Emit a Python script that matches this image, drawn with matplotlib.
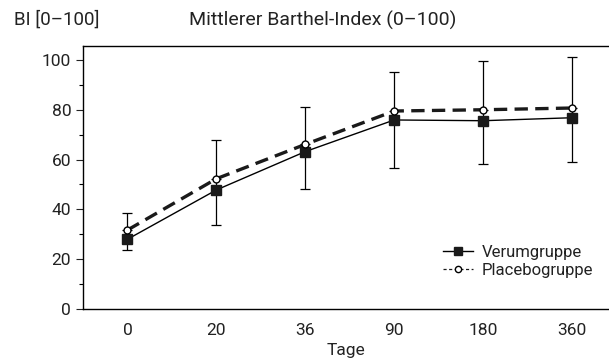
import matplotlib
matplotlib.use("Agg")
import matplotlib.pyplot as plt
from matplotlib.ticker import MultipleLocator

plt.rcParams['font.family'] = ['Roboto', 'DejaVu Sans']

# data
days = ["0", "20", "36", "90", "180", "360"]
verum = [28.0, 47.8, 63.2, 75.9, 75.6, 76.8]
placebo = [31.7, 52.3, 66.1, 79.5, 80.0, 80.7]
verum_sd = [4.2, 14.1, 15.0, 19.4, 17.4, 17.6]     # drawn downwards
placebo_sd = [6.7, 15.5, 14.9, 15.5, 19.6, 20.6]   # drawn upwards

x = list(range(len(days)))

fig = plt.figure(figsize=(6.09, 3.63), dpi=100)
ax = fig.add_axes([83 / 609, 1 - 309 / 363, 1 - 83 / 609, (309 - 46) / 363])

# error bars: lower part from Verum, upper part from Placebo
ax.errorbar(x, verum, yerr=[verum_sd, [0] * len(x)], fmt='none',
            ecolor='black', elinewidth=0.9, capsize=3.5, capthick=0.9, zorder=1)
ax.errorbar(x, placebo, yerr=[[0] * len(x), placebo_sd], fmt='none',
            ecolor='black', elinewidth=0.9, capsize=3.5, capthick=0.9, zorder=1)
# connect the gap between the two means
ax.vlines(x, verum, placebo, colors='black', linewidth=0.9, zorder=1)

ax.plot(x, verum, color='black', linewidth=1.0, marker='s', markersize=6.5,
        markerfacecolor='#1a1a1a', markeredgecolor='#1a1a1a', zorder=3,
        label='Verumgruppe')
ax.plot(x, placebo, color='#1a1a1a', linewidth=2.4, linestyle=(0, (4, 2.2)),
        marker='o', markersize=5, markerfacecolor='white',
        markeredgecolor='black', markeredgewidth=1.0, zorder=4,
        label='Placebogruppe')

ax.set_xlim(-0.5, 5 + (609 - 572) / 89)
ax.set_ylim(0, 105.6)
ax.set_xticks(x)
ax.set_xticklabels(days)
ax.yaxis.set_major_locator(MultipleLocator(20))
ax.yaxis.set_minor_locator(MultipleLocator(10))
ax.tick_params(axis='x', length=0, labelsize=12.5, pad=10, colors='#222222')
ax.tick_params(axis='y', which='major', length=5, width=0.8, labelsize=12.5,
               colors='#222222')
ax.tick_params(axis='y', which='minor', length=3, width=0.8)
ax.spines['right'].set_visible(False)
for s in ['left', 'top', 'bottom']:
    ax.spines[s].set_linewidth(1.0)

ax.set_xlabel('Tage', fontsize=12.5, labelpad=4, color='#222222')

# legend with thin handles like the original
leg = ax.legend(loc='lower right', bbox_to_anchor=(0.985, 0.085), frameon=False,
                fontsize=12, handlelength=1.8, handletextpad=0.5,
                labelspacing=0.2, borderpad=0)
for t in leg.get_texts():
    t.set_color('#222222')
h = leg.legend_handles
h[0].set_linewidth(1.0)
h[0].set_markersize(5.5)
h[1].set_linewidth(0.9)
h[1].set_linestyle((0, (2.5, 2)))
h[1].set_markersize(4.5)

fig.text(14 / 609, 1 - 20 / 363, 'BI [0–100]', fontsize=13.5, va='center',
         ha='left', color='#222222')
fig.text(323 / 609, 1 - 20 / 363, 'Mittlerer Barthel-Index (0–100)',
         fontsize=14, va='center', ha='center', color='#222222')

fig.savefig('out.png', dpi=100)
